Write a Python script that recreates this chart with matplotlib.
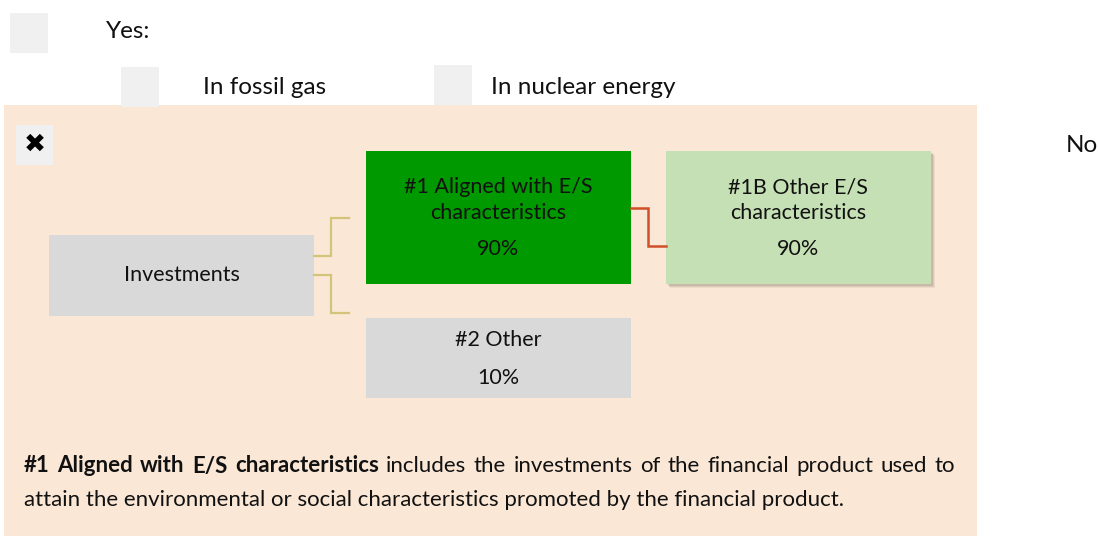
import matplotlib
matplotlib.use("Agg")
import matplotlib.pyplot as plt
from matplotlib.patches import Rectangle

# ---- data ----
option_labels = ["Yes:", "In fossil gas", "In nuclear energy", "No"]
box_titles = ["Investments", "#1 Aligned with E/S\ncharacteristics", "#1B Other E/S\ncharacteristics", "#2 Other"]
box_pcts = [None, "90%", "90%", "10%"]
note_bold = "#1 Aligned with E/S characteristics"
note_line1_rest = "includes the investments of the financial product used to"
note_line2 = "attain the environmental or social characteristics promoted by the financial product."

FONT = ["Lato", "DejaVu Sans"]
W, H = 1098, 536
fig = plt.figure(figsize=(W / 100, H / 100), dpi=100)
ax = fig.add_axes([0, 0, 1, 1])
ax.set_xlim(0, W)
ax.set_ylim(H, 0)
ax.axis("off")

peach = "#fae7d6"
chk = "#f0f0f0"
txt = "#111111"
ax.add_patch(Rectangle((4, 105), 973, 431, facecolor=peach, edgecolor="none", zorder=0))

# checkboxes
for (x, y) in [(10, 13), (121, 67), (434, 65)]:
    ax.add_patch(Rectangle((x, y), 38, 40, facecolor=chk, edgecolor="none", zorder=1))
ax.add_patch(Rectangle((16, 125), 37, 40, facecolor=chk, edgecolor="none", zorder=1))
ax.text(34.5, 145, "\u2716", ha="center", va="center", fontsize=19, color="black",
        family=["DejaVu Sans"], zorder=2)

fs = 17.5
ax.text(106, 31, option_labels[0], ha="left", va="center", fontsize=fs, family=FONT, color=txt)
ax.text(203, 87, option_labels[1], ha="left", va="center", fontsize=fs, family=FONT, color=txt)
ax.text(491, 87, option_labels[2], ha="left", va="center", fontsize=fs, family=FONT, color=txt)
ax.text(1066, 146, option_labels[3], ha="left", va="center", fontsize=fs, family=FONT, color=txt)

# boxes: (x, y, w, h, color)
boxes = [
    (49, 235, 265, 81, "#d9d9d9"),
    (366, 151, 265, 133, "#009900"),
    (666, 151, 265, 133, "#c5e0b4"),
    (366, 318, 265, 80, "#d9d9d9"),
]
# shadow for light green box
for k, a in [(4, 0.10), (3, 0.15), (2, 0.2)]:
    ax.add_patch(Rectangle((666 + k, 151 + k), 265, 133, facecolor="#7f6f5f", alpha=a,
                           edgecolor="none", zorder=1))
for (x, y, w, h, c) in boxes:
    ax.add_patch(Rectangle((x, y), w, h, facecolor=c, edgecolor="none", zorder=2))

# texts in boxes
bfs = 15.5
ax.text(49 + 132.5, 275, box_titles[0], ha="center", va="center", fontsize=bfs, family=FONT, color=txt, zorder=3)
for i, cx in zip([1, 2], [498, 798]):
    l1, l2 = box_titles[i].split("\n")
    ax.text(cx, 187, l1, ha="center", va="center", fontsize=bfs, family=FONT, color=txt, zorder=3)
    ax.text(cx, 213, l2, ha="center", va="center", fontsize=bfs, family=FONT, color=txt, zorder=3)
    ax.text(cx, 249, box_pcts[i], ha="center", va="center", fontsize=bfs, family=FONT, color=txt, zorder=3)
ax.text(498, 340, box_titles[3], ha="center", va="center", fontsize=bfs, family=FONT, color=txt, zorder=3)
ax.text(498, 378, box_pcts[3], ha="center", va="center", fontsize=bfs, family=FONT, color=txt, zorder=3)

# connectors
kh = "#d4c47a"
ax.plot([314, 331, 331, 349], [256, 256, 218, 218], color=kh, lw=1.6, zorder=2, solid_joinstyle="miter")
ax.plot([314, 331, 331, 349], [275, 275, 313, 313], color=kh, lw=1.6, zorder=2, solid_joinstyle="miter")
ax.plot([631, 648, 648, 666], [208, 208, 246, 246], color="#d0502a", lw=1.8, zorder=2, solid_joinstyle="miter")

# bottom note, justified first line
fig.canvas.draw()
r = fig.canvas.get_renderer()
nfs = 16
def width(s, weight):
    t = ax.text(0, 0, s, fontsize=nfs, family=FONT, weight=weight)
    bb = t.get_window_extent(renderer=r)
    t.remove()
    return bb.width
words = [(w, "bold") for w in note_bold.split()] + [(w, "normal") for w in note_line1_rest.split()]
ws = [width(w, wt) for w, wt in words]
x0, x1 = 24, 955
gap = (x1 - x0 - sum(ws)) / (len(words) - 1)
x = x0
for (w, wt), wd in zip(words, ws):
    ax.text(x, 466, w, ha="left", va="center", fontsize=nfs, family=FONT, weight=wt, color=txt, zorder=3)
    x += wd + gap
ax.text(24, 500, note_line2, ha="left", va="center", fontsize=nfs, family=FONT, color=txt, zorder=3)

fig.savefig("out.png", dpi=100, facecolor="white")
